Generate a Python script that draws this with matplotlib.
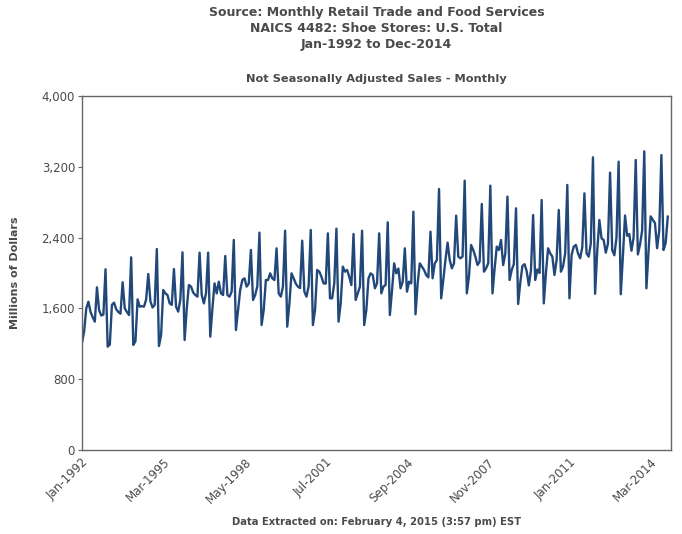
import matplotlib
matplotlib.use("Agg")
import matplotlib.pyplot as plt
import numpy as np

# monthly sales, millions of dollars
y1992 = [1210, 1340, 1600, 1676, 1560, 1500, 1450, 1838, 1580, 1520, 1530, 2042]
y1993 = [1168, 1190, 1640, 1665, 1590, 1560, 1540, 1895, 1600, 1560, 1525, 2177]
y1994 = [1187, 1230, 1702, 1620, 1625, 1620, 1700, 1989, 1680, 1610, 1640, 2271]
y1995 = [1175, 1300, 1808, 1770, 1750, 1657, 1640, 2045, 1620, 1563, 1700, 2234]
y1996 = [1243, 1600, 1864, 1846, 1780, 1751, 1733, 2230, 1751, 1657, 1770, 2230]
y1997 = [1281, 1600, 1883, 1770, 1902, 1770, 1751, 2192, 1751, 1733, 1790, 2373]
y1998 = [1356, 1582, 1808, 1921, 1940, 1846, 1880, 2260, 1695, 1751, 1850, 2456]
y1999 = [1412, 1582, 1921, 1920, 1996, 1940, 1921, 2279, 1770, 1733, 1850, 2478]
y2000 = [1394, 1650, 1996, 1940, 1880, 1846, 1830, 2365, 1789, 1733, 1850, 2486]
y2001 = [1412, 1582, 2034, 2015, 1958, 1883, 1880, 2448, 1714, 1714, 1883, 2501]
y2002 = [1450, 1657, 2072, 2015, 2034, 1958, 1864, 2441, 1695, 1770, 1846, 2478]
y2003 = [1412, 1582, 1940, 1996, 1977, 1827, 1883, 2448, 1770, 1846, 1864, 2573]
y2004 = [1525, 1800, 2109, 1996, 2050, 1827, 1902, 2279, 1789, 1902, 1883, 2693]
y2005 = [1533, 1883, 2109, 2072, 2034, 1977, 1950, 2467, 1940, 2109, 2147, 2949]
y2006 = [1714, 1921, 2147, 2343, 2147, 2053, 2109, 2648, 2185, 2166, 2185, 3043]
y2007 = [1770, 1959, 2316, 2260, 2185, 2090, 2128, 2780, 2015, 2053, 2109, 2987]
y2008 = [1770, 2050, 2298, 2260, 2373, 2090, 2220, 2863, 1921, 2034, 2100, 2731]
y2009 = [1650, 1890, 2080, 2100, 2020, 1860, 2030, 2655, 1921, 2040, 2000, 2825]
y2010 = [1657, 2000, 2279, 2222, 2185, 1977, 2150, 2712, 2015, 2072, 2222, 2995]
y2011 = [1714, 2204, 2298, 2317, 2222, 2166, 2290, 2900, 2222, 2185, 2335, 3307]
y2012 = [1765, 2250, 2599, 2392, 2373, 2230, 2330, 3134, 2260, 2200, 2400, 3258]
y2013 = [1760, 2190, 2650, 2420, 2440, 2252, 2400, 3277, 2210, 2320, 2480, 3375]
y2014 = [1827, 2250, 2640, 2600, 2565, 2280, 2480, 3333, 2260, 2340, 2637]

years = [y1992, y1993, y1994, y1995, y1996, y1997, y1998, y1999, y2000,
         y2001, y2002, y2003, y2004, y2005, y2006, y2007, y2008, y2009,
         y2010, y2011, y2012, y2013, y2014]
sales = np.concatenate(years)
months = np.arange(len(sales))

tick_pos = [0, 38, 76, 114, 152, 190, 228, 266]
tick_labels = ['Jan-1992', 'Mar-1995', 'May-1998', 'Jul-2001',
               'Sep-2004', 'Nov-2007', 'Jan-2011', 'Mar-2014']
y_ticks = [0, 800, 1600, 2400, 3200, 4000]

txt = '#4a4a4a'

fig = plt.figure(figsize=(6.82, 5.34), dpi=100)
ax = fig.add_axes([82/682, 84/534, 589/682, 354/534])

ax.plot(months, sales, color='#22487a', linewidth=1.7)

ax.set_xlim(0, 275.5)
ax.set_ylim(0, 4000)
ax.set_yticks(y_ticks)
ax.set_yticklabels(['{:,}'.format(v) for v in y_ticks])
ax.set_xticks(tick_pos)
ax.set_xticklabels(tick_labels, rotation=45, ha='right', rotation_mode='anchor')

ax.tick_params(axis='y', length=3, color='#666666', labelsize=8.5, labelcolor=txt, pad=2)
ax.tick_params(axis='x', length=0, labelsize=8.5, labelcolor=txt, pad=4)
for s in ax.spines.values():
    s.set_color('#666666')
    s.set_linewidth(1)

ax.set_ylabel('Millions of Dollars', fontsize=8, fontweight='bold', color=txt)
ax.yaxis.set_label_coords(-0.105, 0.5)

cx = (82 + 671) / 2 / 682
fig.text(cx, 1 - 6/534, 'Source: Monthly Retail Trade and Food Services\n'
         'NAICS 4482: Shoe Stores: U.S. Total\nJan-1992 to Dec-2014',
         ha='center', va='top', fontsize=9, fontweight='bold', color=txt,
         linespacing=1.3)
fig.text(cx, 1 - 79/534, 'Not Seasonally Adjusted Sales - Monthly',
         ha='center', va='center', fontsize=8.2, fontweight='bold', color=txt)
fig.text(cx, 1 - 522/534, 'Data Extracted on: February 4, 2015 (3:57 pm) EST',
         ha='center', va='center', fontsize=7.2, fontweight='bold', color=txt)

fig.savefig('out.png', dpi=100, facecolor='white')
